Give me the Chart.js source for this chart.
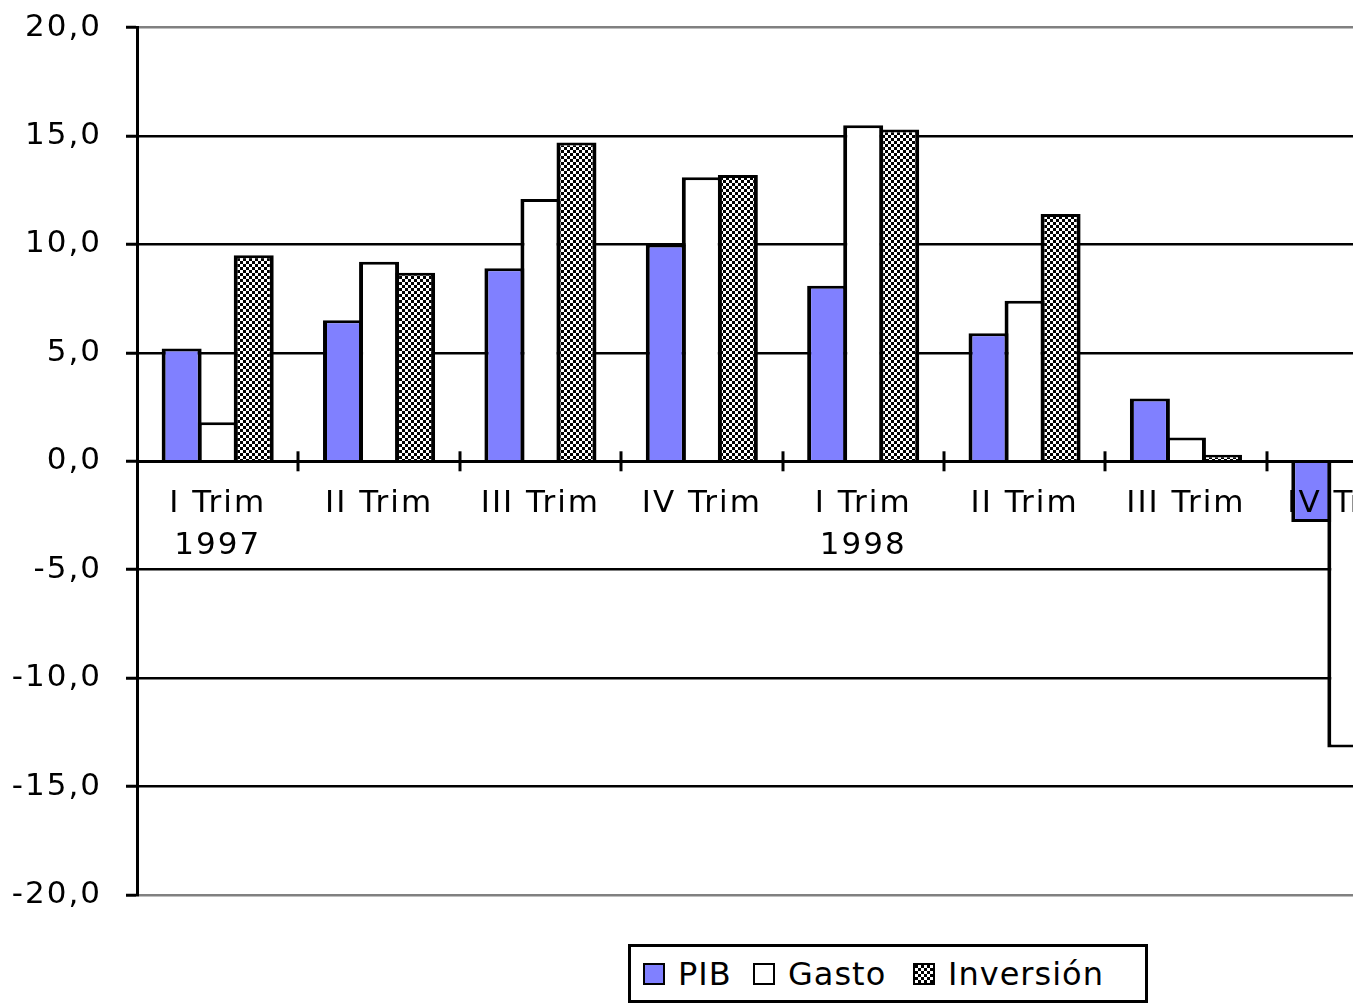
<!DOCTYPE html>
<html lang="es">
<head>
<meta charset="utf-8">
<title>PIB, Gasto e Inversión</title>
<script src="https://cdn.jsdelivr.net/npm/chart.js@4.4.1/dist/chart.umd.min.js"></script>
<style>
  html, body { margin: 0; padding: 0; background: #fff; overflow: hidden; width: 1353px; height: 1005px; }
  #wrap { position: relative; width: 1353px; height: 1005px; overflow: hidden; }
  #chart { position: absolute; left: 0; top: -15px; }
  #legend {
    position: absolute; left: 628px; top: 944px; width: 502px; height: 53px;
    border: 3px solid #000; background: #fff;
    display: flex; align-items: center; justify-content: flex-start;
    padding-left: 12px; box-sizing: content-box;
    font-family: "DejaVu Sans", sans-serif; font-size: 32px; color: #000;
    letter-spacing: 1px;
  }
  #legend .item { display: flex; align-items: center; }
  #legend .sw { width: 18px; height: 18px; border: 2px solid #000; margin-right: 13px; box-sizing: content-box; }
</style>
</head>
<body>
<div id="wrap">
  <canvas id="chart" width="1440" height="1020"></canvas>
  <div id="legend"></div>
</div>
<script>
// Quarterly growth rates (%)
const categories = [['I Trim', '1997'], 'II Trim', 'III Trim', 'IV Trim', ['I Trim', '1998'], 'II Trim', 'III Trim', 'IV Trim'];
const seriesNames = ['PIB', 'Gasto', 'Inversión'];
const pib = [5.2, 6.5, 8.9, 10.0, 8.1, 5.9, 2.9, -2.8];
const gasto = [1.8, 9.2, 12.1, 13.1, 15.5, 7.4, 1.1, -13.2];
const inversion = [9.5, 8.7, 14.7, 13.2, 15.3, 11.4, 0.3, null];
const yTicks = [-20, -15, -10, -5, 0, 5, 10, 15, 20];

const FONT = '"DejaVu Sans", sans-serif';

// Checkerboard fill for the investment series
function makeChecker() {
  const c = document.createElement('canvas');
  c.width = 6; c.height = 6;
  const g = c.getContext('2d');
  g.fillStyle = '#fff'; g.fillRect(0, 0, 6, 6);
  g.fillStyle = '#000'; g.fillRect(0, 0, 3, 3); g.fillRect(3, 3, 3, 3);
  return c;
}
const checkerCanvas = makeChecker();
const ctx = document.getElementById('chart').getContext('2d');
const checker = ctx.createPattern(checkerCanvas, 'repeat');

const fills = ['#8080FF', '#FFFFFF', checker];
const values = [pib, gasto, inversion];

// Wider letter spacing for the axis text
const spacing = {
  id: 'spacing',
  beforeDraw(chart) { chart.ctx.letterSpacing = '2px'; }
};

// Small tick marks crossing the zero axis between categories
const crossTicks = {
  id: 'crossTicks',
  afterDraw(chart) {
    const xs = chart.scales.x, ys = chart.scales.y;
    const y0 = ys.getPixelForValue(0);
    const c = chart.ctx;
    c.save();
    c.strokeStyle = '#000';
    c.lineWidth = 3;
    for (let i = 1; i < categories.length; i++) {
      const x = Math.round((xs.getPixelForValue(i - 1) + xs.getPixelForValue(i)) / 2);
      c.beginPath();
      c.moveTo(x, y0 - 10);
      c.lineTo(x, y0 + 10);
      c.stroke();
    }
    c.restore();
  }
};

const chart = new Chart(ctx, {
  type: 'bar',
  data: {
    labels: categories,
    datasets: seriesNames.map((name, i) => ({
      label: name,
      data: values[i],
      backgroundColor: fills[i],
      borderColor: '#000',
      borderWidth: { top: 3, bottom: 3, left: 4, right: 4 },
      borderSkipped: 'start',
      inflateAmount: 0,
      categoryPercentage: 0.67,
      barPercentage: 1.11
    }))
  },
  options: {
    responsive: false,
    devicePixelRatio: 1,
    animation: false,
    layout: { padding: { top: 10, bottom: 110, left: 0, right: 12 } },
    plugins: {
      legend: { display: false },
      tooltip: { enabled: false },
      title: { display: false }
    },
    scales: {
      x: {
        position: { y: 0 },
        grid: { display: false },
        border: { display: true, color: '#000', width: 3, z: 1 },
        ticks: {
          z: 1,
          color: '#000',
          padding: 14,
          maxRotation: 0,
          autoSkip: false,
          font: { family: FONT, size: 31, lineHeight: 1.35 }
        }
      },
      y: {
        min: -20,
        max: 20,
        afterFit(scale) { scale.width = 137; },
        afterBuildTicks(scale) { scale.ticks = yTicks.map(v => ({ value: v })); },
        border: { display: true, color: '#000', width: 3 },
        grid: {
          color: c => (c.tick && Math.abs(c.tick.value) === 20) ? '#808080' : '#000',
          lineWidth: 2.5,
          tickColor: '#000',
          tickWidth: 3,
          tickLength: 11
        },
        ticks: {
          color: '#000',
          padding: 24,
          font: { family: FONT, size: 31 },
          callback: v => Number(v).toFixed(1).replace('.', ',')
        }
      }
    }
  },
  plugins: [spacing, crossTicks]
});

// Legend built from the datasets
const legend = document.getElementById('legend');
const checkerURL = checkerCanvas.toDataURL();
const itemWidths = ['110px', '160px', 'auto'];
chart.data.datasets.forEach((ds, i) => {
  const item = document.createElement('div');
  item.className = 'item';
  item.style.width = itemWidths[i];
  const sw = document.createElement('span');
  sw.className = 'sw';
  if (i === 2) { sw.style.backgroundImage = 'url(' + checkerURL + ')'; }
  else { sw.style.background = fills[i]; }
  const tx = document.createElement('span');
  tx.textContent = ds.label;
  item.appendChild(sw);
  item.appendChild(tx);
  legend.appendChild(item);
});
</script>
</body>
</html>
